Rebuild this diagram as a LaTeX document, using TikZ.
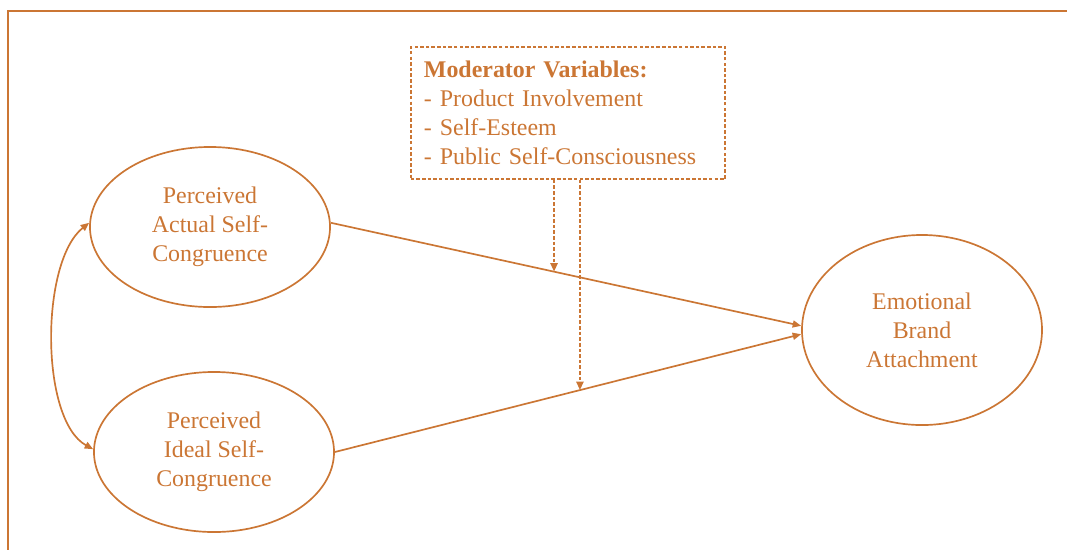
\documentclass[tikz,border=0pt]{standalone}
\usepackage{fontspec}
\setmainfont{Liberation Serif}
\usetikzlibrary{shapes.geometric, arrows.meta}

\definecolor{rust}{RGB}{203,118,52}

\begin{document}
\begin{tikzpicture}[x=0.025cm, y=-0.025cm,
    every node/.style={text=rust, font=\fontsize{17}{20.5}\selectfont},
    construct/.style={draw=rust, ellipse, line width=1.2pt, align=center, inner sep=0pt},
    modbox/.style={draw=rust, dashed, dash pattern=on 2.5pt off 1.5pt, line width=1.2pt,
      align=left, text width=7.2cm, inner xsep=0.33cm, minimum height=3.3cm},
    path/.style={draw=rust, line width=1.2pt, -{Triangle[length=6pt,width=5pt]}},
    moderates/.style={path, dashed, dash pattern=on 2.5pt off 1.5pt, line width=1.5pt}]
    \useasboundingbox (0,0) rectangle (1067,549);%

    % frame
    \draw[rust, line width=1.8pt] (8,560) -- (8,11) -- (1075,11);%

    \node[construct, minimum width=6cm, minimum height=4cm] (act) at (210,227)
      {Perceived\\Actual Self-\\Congruence};%
    \node[construct, minimum width=6cm, minimum height=4cm] (ide) at (214,452)
      {Perceived\\Ideal Self-\\Congruence};%
    \node[construct, minimum width=6cm, minimum height=4.75cm] (emo) at (922,330)
      {Emotional\\Brand\\Attachment};%
    \node[modbox] (mod) at (568,113)
      {\textbf{Moderator Variables:}\\- Product Involvement\\- Self-Esteem\\- Public Self-Consciousness};%

    \draw[path] ([yshift=3pt]act.east) -- coordinate[pos=0.4746] (m_a) ([yshift=3pt]emo.west);%
    \draw[path] (ide.east) -- coordinate[pos=0.5256] (m_i) ([yshift=-3pt]emo.west);%
    \draw[path, {Triangle[length=6pt,width=5pt]}-{Triangle[length=6pt,width=5pt]}]
      ([yshift=3pt]act.west) .. controls (40,262) and (40,420) .. ([yshift=2pt]ide.west);%

    \draw[moderates] (m_a |- mod.south) -- (m_a);%
    \draw[moderates] (m_i |- mod.south) -- (m_i);%
\end{tikzpicture}
\end{document}
